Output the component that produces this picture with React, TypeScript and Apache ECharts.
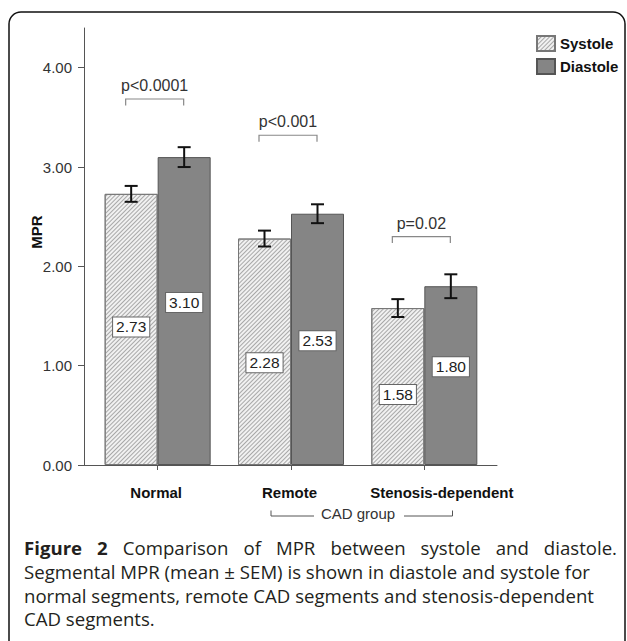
import React, { useEffect, useRef } from 'react';
import * as echarts from 'echarts';

const categories = ['Normal', 'Remote', 'Stenosis-dependent'];
const systole = [2.73, 2.28, 1.58];
const diastole = [3.1, 2.53, 1.8];
const systoleSem = [0.08, 0.08, 0.09];
const diastoleSem = [0.1, 0.095, 0.12];
const yTicks = [0, 1, 2, 3, 4];
const pLabels = ['p<0.0001', 'p<0.001', 'p=0.02'];
const pBracketAt = [3.685, 3.32, 2.3];
// centres (value units) of the boxed value labels
const systoleLabelAt = [1.39, 1.03, 0.71];
const diastoleLabelAt = [1.635, 1.25, 0.99];

const captionLine1 = ['Figure', '2', 'Comparison', 'of', 'MPR', 'between', 'systole', 'and', 'diastole.'];
const captionLines = [
  'Segmental MPR (mean \u00b1 SEM) is shown in diastole and systole for',
  'normal segments, remote CAD segments and stenosis-dependent',
  'CAD segments.',
];

const FONT = 'Liberation Sans, Arial, sans-serif';
const CAP_FONT = 'Open Sans, sans-serif';
const BAR_W = 53;

export default function App() {
  const ref = useRef<HTMLDivElement>(null);
  useEffect(() => {
    document.body.style.margin = '0';
    if (!ref.current) return;
    const chart = echarts.init(ref.current, undefined, { renderer: 'svg' });

    // caption layout
    const ctx = document.createElement('canvas').getContext('2d')!;
    ctx.font = `18px ${CAP_FONT}`;
    const w3 = ctx.measureText(captionLines[1]).width;
    const fs = (18 * 570) / w3;
    const capX0 = 24;
    const capX1 = 617;
    const capY = [547, 571, 595, 618];
    const widths = captionLine1.map((w, i) => {
      ctx.font = `${i < 2 ? 'bold ' : ''}${fs}px ${CAP_FONT}`;
      return ctx.measureText(w).width;
    });
    const sumW = widths.reduce((a, b) => a + b, 0);
    const gap = (capX1 - capX0 - sumW) / (captionLine1.length - 1);
    let cx = capX0;
    const line1Els: any[] = captionLine1.map((w, i) => {
      const el = {
        type: 'text',
        x: cx,
        y: capY[0],
        style: {
          text: w,
          fill: '#231f20',
          font: `${i < 2 ? 'bold ' : ''}${fs}px ${CAP_FONT}`,
          verticalAlign: 'middle',
        },
      };
      cx += widths[i] + gap;
      return el;
    });
    const otherLines = captionLines.map((t, i) => ({
      type: 'text',
      x: capX0,
      y: capY[i + 1],
      style: { text: t, fill: '#231f20', font: `${fs}px ${CAP_FONT}`, verticalAlign: 'middle' },
    }));

    const errData = (vals: number[], sems: number[]) => vals.map((v, i) => [i, v, sems[i]]);
    const errRender = (off: number) => (params: any, api: any) => {
      const i = api.value(0);
      const x = api.coord([i, 0])[0] + off;
      const yHi = api.coord([i, api.value(1) + api.value(2)])[1];
      const yLo = api.coord([i, api.value(1) - api.value(2)])[1];
      const st = { stroke: '#111', lineWidth: 2 };
      return {
        type: 'group',
        children: [
          { type: 'line', shape: { x1: x, y1: yHi, x2: x, y2: yLo }, style: st },
          { type: 'line', shape: { x1: x - 6.5, y1: yHi, x2: x + 6.5, y2: yHi }, style: st },
          { type: 'line', shape: { x1: x - 6.5, y1: yLo, x2: x + 6.5, y2: yLo }, style: st },
        ],
      };
    };
    const labelData = (vals: number[], at: number[]) => vals.map((v, i) => [i, at[i], v]);
    const labelRender = (off: number) => (params: any, api: any) => {
      const i = api.value(0);
      const p = api.coord([i, api.value(1)]);
      return {
        type: 'text',
        x: p[0] + off,
        y: p[1],
        style: {
          text: Number(api.value(2)).toFixed(2),
          fill: '#222',
          font: `15.5px ${FONT}`,
          align: 'center',
          verticalAlign: 'middle',
          backgroundColor: '#fff',
          borderColor: '#666',
          borderWidth: 1,
          padding: [2, 3, 1, 3],
        },
      };
    };

    chart.setOption({
      animation: false,
      textStyle: { fontFamily: FONT },
      legend: {
        data: ['Systole', 'Diastole'],
        orient: 'vertical',
        left: 531,
        top: 30,
        itemWidth: 18,
        itemHeight: 15,
        itemGap: 6,
        icon: 'rect',
        textStyle: { fontSize: 15, fontWeight: 'bold', color: '#111', fontFamily: FONT },
      },
      grid: [
        { left: 84, top: 28, width: 413, height: 437 },
        { left: 91, top: 28, width: 400, height: 437 },
      ],
      xAxis: [
        {
          gridIndex: 0,
          type: 'value',
          min: 0,
          max: 1,
          axisLine: { show: true, lineStyle: { color: '#555', width: 1 } },
          axisTick: { show: false },
          axisLabel: { show: false },
          splitLine: { show: false },
        },
        {
          gridIndex: 1,
          type: 'category',
          data: categories.map((c, i) =>
            i === 2 ? { value: c, textStyle: { padding: [0, 0, 0, 35] } } : { value: c, textStyle: { padding: [0, 3, 0, 0] } }
          ),
          axisLine: { show: false },
          axisTick: { show: true, alignWithLabel: true, length: 5, lineStyle: { color: '#555' } },
          axisLabel: {
            interval: 0,
            hideOverlap: false,
            fontSize: 15,
            fontWeight: 'bold',
            color: '#111',
            margin: 20,
            fontFamily: FONT,
          },
        },
      ],
      yAxis: [
        {
          gridIndex: 0,
          type: 'value',
          min: 0,
          max: 4.4,
          axisLine: { show: true, lineStyle: { color: '#555', width: 1 } },
          axisTick: { show: true, customValues: yTicks, length: 6, lineStyle: { color: '#555' } },
          axisLabel: {
            customValues: yTicks,
            formatter: (v: number) => v.toFixed(2),
            fontSize: 15,
            color: '#333',
            margin: 12,
            fontFamily: FONT,
          },
          splitLine: { show: false },
        },
        { gridIndex: 1, type: 'value', min: 0, max: 4.4, show: false },
      ],
      graphic: [
        {
          type: 'rect',
          shape: { x: 9, y: 12, width: 616, height: 700, r: 12 },
          style: { fill: 'none', stroke: '#111', lineWidth: 1.5 },
          silent: true,
        },
        {
          type: 'text',
          x: 36,
          y: 232,
          rotation: Math.PI / 2,
          style: { text: 'MPR', font: `bold 15px ${FONT}`, fill: '#111', align: 'center', verticalAlign: 'middle' },
        },
        {
          type: 'text',
          x: 358,
          y: 513,
          style: { text: 'CAD group', font: `15px ${FONT}`, fill: '#333', align: 'center', verticalAlign: 'middle' },
        },
        {
          type: 'polyline',
          shape: { points: [[271, 510.5], [271, 516], [314, 516]] },
          style: { stroke: '#555', lineWidth: 1, fill: 'none' },
        },
        {
          type: 'polyline',
          shape: { points: [[404, 516], [452.5, 516], [452.5, 510.5]] },
          style: { stroke: '#555', lineWidth: 1, fill: 'none' },
        },
        ...line1Els,
        ...otherLines,
      ],
      series: [
        {
          name: 'Systole',
          type: 'bar',
          xAxisIndex: 1,
          yAxisIndex: 1,
          data: systole,
          barWidth: BAR_W,
          barGap: '0%',
          itemStyle: {
            color: '#f1f1f1',
            borderColor: '#777',
            borderWidth: 1,
            decal: {
              symbol: 'rect',
              symbolSize: 1,
              color: '#a8a8a8',
              dashArrayX: [1, 0],
              dashArrayY: [1, 2],
              rotation: -Math.PI / 4,
            },
          },
        },
        {
          name: 'Diastole',
          type: 'bar',
          xAxisIndex: 1,
          yAxisIndex: 1,
          data: diastole,
          barWidth: BAR_W,
          barGap: '0%',
          itemStyle: { color: '#858585', borderColor: '#555', borderWidth: 1 },
        },
        {
          type: 'custom',
          xAxisIndex: 1,
          yAxisIndex: 1,
          data: errData(systole, systoleSem),
          renderItem: errRender(-BAR_W / 2),
          encode: { x: 0, y: 1 },
          z: 5,
        },
        {
          type: 'custom',
          xAxisIndex: 1,
          yAxisIndex: 1,
          data: errData(diastole, diastoleSem),
          renderItem: errRender(BAR_W / 2),
          encode: { x: 0, y: 1 },
          z: 5,
        },
        {
          type: 'custom',
          xAxisIndex: 1,
          yAxisIndex: 1,
          data: labelData(systole, systoleLabelAt),
          renderItem: labelRender(-BAR_W / 2),
          encode: { x: 0, y: 1 },
          z: 6,
        },
        {
          type: 'custom',
          xAxisIndex: 1,
          yAxisIndex: 1,
          data: labelData(diastole, diastoleLabelAt),
          renderItem: labelRender(BAR_W / 2),
          encode: { x: 0, y: 1 },
          z: 6,
        },
        {
          type: 'custom',
          xAxisIndex: 1,
          yAxisIndex: 1,
          data: pBracketAt.map((v, i) => [i, v]),
          encode: { x: 0, y: 1 },
          z: 6,
          renderItem: (params: any, api: any) => {
            const i = api.value(0);
            const p = api.coord([i, api.value(1)]);
            const xl = p[0] - 32;
            const xr = p[0] + 26;
            return {
              type: 'group',
              children: [
                {
                  type: 'polyline',
                  shape: { points: [[xl, p[1] + 6.5], [xl, p[1]], [xr, p[1]], [xr, p[1] + 6.5]] },
                  style: { stroke: '#888', lineWidth: 1.2, fill: 'none' },
                },
                {
                  type: 'text',
                  x: (xl + xr) / 2,
                  y: p[1] - 13.5,
                  style: {
                    text: pLabels[i],
                    font: `16px ${FONT}`,
                    fill: '#333',
                    align: 'center',
                    verticalAlign: 'middle',
                  },
                },
              ],
            };
          },
        },
      ],
    });
    return () => chart.dispose();
  }, []);
  return <div ref={ref} style={{ width: 627, height: 641 }} />;
}
